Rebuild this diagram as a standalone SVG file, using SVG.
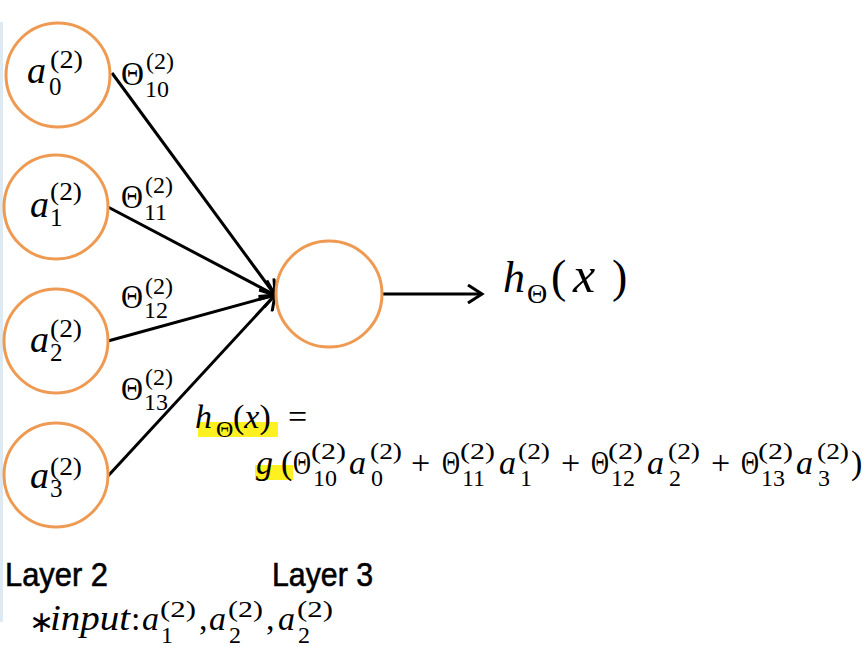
<svg xmlns="http://www.w3.org/2000/svg" width="867" height="647" viewBox="0 0 867 647">
<style>
.bg{fill:#ffffff}
.node{fill:#ffffff;stroke:#EE9A52;stroke-width:3}
.edge{stroke:#000;stroke-width:3;fill:none}
.m{font-family:"Liberation Serif","Times New Roman",serif;fill:#000}
.it{font-style:italic}
.big{font-size:34px}
.a{font-size:38px}
.s{font-size:24px}
.sa{font-size:25px}
.lay{font-family:"Liberation Sans",Arial,sans-serif;font-size:33px;fill:#000;stroke:#000;stroke-width:0.6}
.hl{fill:#FFF01F}
</style>
<defs>
<marker id="arr" markerUnits="userSpaceOnUse" markerWidth="20" markerHeight="20" viewBox="0 0 20 20" refX="16" refY="10" orient="auto">
<path d="M2,1 L16,10 L2,19" fill="none" stroke="#000" stroke-width="3"/>
</marker>
</defs>
<rect class="bg" x="0" y="0" width="867" height="647"/>
<rect x="0" y="22" width="3" height="600" fill="#DDE9F3"/>

<g id="connectors">
<line class="edge" x1="112" y1="73" x2="275" y2="295" marker-end="url(#arr)"/>
<line class="edge" x1="108" y1="207" x2="275" y2="295" marker-end="url(#arr)"/>
<line class="edge" x1="108" y1="341" x2="275" y2="295" marker-end="url(#arr)"/>
<line class="edge" x1="108" y1="476" x2="275" y2="295" marker-end="url(#arr)"/>
<line class="edge" x1="383" y1="294" x2="482" y2="294" marker-end="url(#arr)"/>
</g>

<g id="a0">
<circle class="node" cx="58" cy="75" r="52"/>
<text class="m it a" x="27" y="83">a</text>
<text class="m sa" x="50" y="68" textLength="33" lengthAdjust="spacingAndGlyphs">(2)</text>
<text class="m sa" x="49" y="95">0</text>
</g>
<g id="a1">
<circle class="node" cx="56" cy="207" r="52"/>
<text class="m it a" x="30" y="217">a</text>
<text class="m sa" x="50" y="200" textLength="32" lengthAdjust="spacingAndGlyphs">(2)</text>
<text class="m sa" x="50" y="226">1</text>
</g>
<g id="a2">
<circle class="node" cx="56" cy="341" r="52"/>
<text class="m it a" x="30" y="352">a</text>
<text class="m sa" x="50" y="337" textLength="32" lengthAdjust="spacingAndGlyphs">(2)</text>
<text class="m sa" x="50" y="361">2</text>
</g>
<g id="a3">
<circle class="node" cx="56" cy="475" r="52"/>
<text class="m it a" x="30" y="488">a</text>
<text class="m sa" x="50" y="475" textLength="32" lengthAdjust="spacingAndGlyphs">(2)</text>
<text class="m sa" x="50" y="497">3</text>
</g>
<g id="out">
<circle class="node" cx="329" cy="294" r="53"/>
</g>

<g id="theta-labels">
<text class="m big" x="121" y="85" textLength="23" lengthAdjust="spacingAndGlyphs">Θ</text>
<text class="m s" x="146" y="69" textLength="28" lengthAdjust="spacingAndGlyphs">(2)</text>
<text class="m s" x="145" y="97">10</text>

<text class="m big" x="121" y="208" textLength="22" lengthAdjust="spacingAndGlyphs">Θ</text>
<text class="m s" x="145" y="193" textLength="28" lengthAdjust="spacingAndGlyphs">(2)</text>
<text class="m s" x="144" y="220">11</text>

<text class="m big" x="121" y="308" textLength="22" lengthAdjust="spacingAndGlyphs">Θ</text>
<text class="m s" x="145" y="294" textLength="28" lengthAdjust="spacingAndGlyphs">(2)</text>
<text class="m s" x="144" y="318">12</text>

<text class="m big" x="121" y="400" textLength="22" lengthAdjust="spacingAndGlyphs">Θ</text>
<text class="m s" x="145" y="385" textLength="28" lengthAdjust="spacingAndGlyphs">(2)</text>
<text class="m s" x="144" y="410">13</text>
</g>

<g id="output-label">
<text class="m it" x="503" y="292" font-size="44">h</text>
<text class="m" x="527" y="303" font-size="28">Θ</text>
<text class="m" x="551" y="292" font-size="46">(</text>
<text class="m it" x="573" y="292" font-size="50">x</text>
<text class="m" x="612" y="292" font-size="46">)</text>
</g>

<g id="formula">
<rect class="hl" x="198" y="422" width="80" height="15"/>
<rect class="hl" x="255" y="465" width="38" height="15"/>
<text class="m it big" x="195" y="428">h</text>
<text class="m s" x="216" y="437">Θ</text>
<text class="m big" x="233" y="428">(<tspan class="it">x</tspan>)</text>
<text class="m big" x="288" y="428">=</text>

<text class="m it big" x="256" y="474">g</text>
<text class="m big" x="281" y="474">(</text>
<text class="m big" x="293" y="474" textLength="18" lengthAdjust="spacingAndGlyphs">Θ</text>
<text class="m s" x="311" y="459" textLength="35" lengthAdjust="spacingAndGlyphs">(2)</text>
<text class="m s" x="313" y="486">10</text>
<text class="m it big" x="349" y="474">a</text>
<text class="m s" x="370" y="459" textLength="32" lengthAdjust="spacingAndGlyphs">(2)</text>
<text class="m s" x="371" y="486">0</text>
<text class="m big" x="411" y="474">+</text>

<text class="m big" x="442" y="474" textLength="18" lengthAdjust="spacingAndGlyphs">Θ</text>
<text class="m s" x="460" y="459" textLength="35" lengthAdjust="spacingAndGlyphs">(2)</text>
<text class="m s" x="462" y="486">11</text>
<text class="m it big" x="499" y="474">a</text>
<text class="m s" x="518" y="459" textLength="32" lengthAdjust="spacingAndGlyphs">(2)</text>
<text class="m s" x="520" y="486">1</text>
<text class="m big" x="561" y="474">+</text>

<text class="m big" x="591" y="474" textLength="18" lengthAdjust="spacingAndGlyphs">Θ</text>
<text class="m s" x="608" y="459" textLength="35" lengthAdjust="spacingAndGlyphs">(2)</text>
<text class="m s" x="611" y="486">12</text>
<text class="m it big" x="647" y="474">a</text>
<text class="m s" x="668" y="459" textLength="32" lengthAdjust="spacingAndGlyphs">(2)</text>
<text class="m s" x="669" y="486">2</text>
<text class="m big" x="711" y="474">+</text>

<text class="m big" x="741" y="474" textLength="18" lengthAdjust="spacingAndGlyphs">Θ</text>
<text class="m s" x="758" y="459" textLength="35" lengthAdjust="spacingAndGlyphs">(2)</text>
<text class="m s" x="761" y="486">13</text>
<text class="m it big" x="796" y="474">a</text>
<text class="m s" x="817" y="459" textLength="32" lengthAdjust="spacingAndGlyphs">(2)</text>
<text class="m s" x="818" y="486">3</text>
<text class="m big" x="851" y="474">)</text>
</g>

<g id="layers">
<text class="lay" x="5" y="586" textLength="103" lengthAdjust="spacingAndGlyphs">Layer 2</text>
<text class="lay" x="272" y="586" textLength="101" lengthAdjust="spacingAndGlyphs">Layer 3</text>
</g>

<g id="note">
<text class="m" x="29" y="632" font-size="30">∗</text>
<text class="m it" x="50" y="630" font-size="35" textLength="80" lengthAdjust="spacingAndGlyphs">input</text>
<text class="m" x="131" y="630" font-size="34">:</text>
<text class="m it big" x="142" y="630">a</text>
<text class="m s" x="160" y="617" textLength="36" lengthAdjust="spacingAndGlyphs">(2)</text>
<text class="m s" x="161" y="643">1</text>
<text class="m big" x="199" y="630">,</text>
<text class="m it big" x="209" y="630">a</text>
<text class="m s" x="228" y="617" textLength="35" lengthAdjust="spacingAndGlyphs">(2)</text>
<text class="m s" x="229" y="643">2</text>
<text class="m big" x="266" y="630">,</text>
<text class="m it big" x="278" y="630">a</text>
<text class="m s" x="297" y="617" textLength="36" lengthAdjust="spacingAndGlyphs">(2)</text>
<text class="m s" x="298" y="643">2</text>
</g>
</svg>
